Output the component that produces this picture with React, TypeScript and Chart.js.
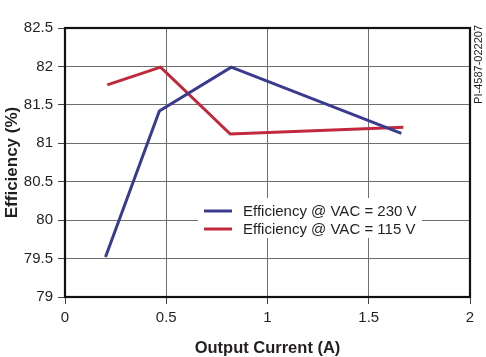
import React, { useEffect, useRef } from "react";
import { Chart, registerables } from "chart.js";

Chart.register(...registerables);

const currents230 = [0.2, 0.466, 0.821, 1.661];
const eff230 = [79.52, 81.42, 81.99, 81.13];
const currents115 = [0.209, 0.472, 0.816, 1.671];
const eff115 = [81.76, 81.99, 81.12, 81.21];
const seriesLabels = ["Efficiency @ VAC = 230 V", "Efficiency @ VAC = 115 V"];
const seriesColors = ["#3a3a8e", "#c1283b"];
const xTitle = "Output Current (A)";
const yTitle = "Efficiency (%)";
const docId = "PI-4587-022207";

const FONT = "'Liberation Sans', Arial, Helvetica, sans-serif";
const TEXT = "#231f20";
const GRID = "#6e6e6e";

const overlay = {
  id: "overlay",
  beforeDatasetsDraw(chart: any) {
    const ctx = chart.ctx;
    ctx.save();
    ctx.fillStyle = "#ffffff";
    ctx.fillRect(198, 198, 224, 40);
    ctx.restore();
  },
  afterDraw(chart: any) {
    const ctx = chart.ctx;
    const a = chart.chartArea;
    ctx.save();
    ctx.strokeStyle = "#111111";
    ctx.lineWidth = 2.2;
    ctx.strokeRect(a.left, a.top, a.right - a.left, a.bottom - a.top);

    // legend
    ctx.font = `15px ${FONT}`;
    ctx.textBaseline = "middle";
    ctx.textAlign = "left";
    chart.data.datasets.forEach((ds: any, i: number) => {
      const y = 211 + i * 18;
      ctx.strokeStyle = ds.borderColor;
      ctx.lineWidth = 3;
      ctx.beginPath();
      ctx.moveTo(204, y);
      ctx.lineTo(232, y);
      ctx.stroke();
      ctx.fillStyle = TEXT;
      ctx.fillText(ds.label, 243, y + 1);
    });

    // document id
    ctx.translate(479, 25);
    ctx.rotate(-Math.PI / 2);
    ctx.font = `11px ${FONT}`;
    ctx.textAlign = "right";
    ctx.textBaseline = "middle";
    ctx.fillStyle = TEXT;
    ctx.fillText(docId, 0, 0);
    ctx.restore();
  },
};

const fmt = (v: any) => String(Number(v));

export default function App() {
  const ref = useRef<HTMLCanvasElement>(null);
  useEffect(() => {
    document.body.style.margin = "0";
    const chart = new Chart(ref.current!, {
      type: "line",
      data: {
        datasets: [
          {
            label: seriesLabels[0],
            data: currents230.map((x, i) => ({ x, y: eff230[i] })),
            borderColor: seriesColors[0],
            backgroundColor: seriesColors[0],
            borderWidth: 3,
            pointRadius: 0,
            tension: 0,
          },
          {
            label: seriesLabels[1],
            data: currents115.map((x, i) => ({ x, y: eff115[i] })),
            borderColor: seriesColors[1],
            backgroundColor: seriesColors[1],
            borderWidth: 3,
            pointRadius: 0,
            tension: 0,
          },
        ],
      },
      options: {
        responsive: false,
        animation: false,
        layout: { padding: { top: 28, right: 16, left: 0, bottom: 0 } },
        plugins: { legend: { display: false }, tooltip: { enabled: false } },
        scales: {
          x: {
            type: "linear",
            min: 0,
            max: 2,
            afterFit(s: any) {
              s.height = 60;
              s.paddingLeft = 0;
              s.paddingRight = 0;
            },
            ticks: {
              stepSize: 0.5,
              padding: 5,
              color: TEXT,
              font: { family: FONT, size: 15 },
              maxRotation: 0,
              callback: fmt,
            },
            grid: { color: GRID, lineWidth: 1, tickLength: 7, tickColor: "#444" },
            border: { display: false },
            title: {
              display: true,
              text: xTitle,
              color: TEXT,
              font: { family: FONT, size: 16.5, weight: "bold", lineHeight: 1 },
              padding: { top: 0, bottom: 0 },
            },
          },
          y: {
            type: "linear",
            min: 79,
            max: 82.5,
            afterFit(s: any) {
              s.width = 65;
              s.paddingTop = 0;
              s.paddingBottom = 0;
            },
            ticks: {
              stepSize: 0.5,
              padding: 5,
              color: TEXT,
              font: { family: FONT, size: 15 },
              callback: fmt,
            },
            grid: { color: GRID, lineWidth: 1, tickLength: 7, tickColor: "#444" },
            border: { display: false },
            title: {
              display: true,
              text: yTitle,
              color: TEXT,
              font: { family: FONT, size: 17, weight: "bold", lineHeight: 1 },
              padding: { top: 4, bottom: 0 },
            },
          },
        },
      },
      plugins: [overlay],
    } as any);
    return () => chart.destroy();
  }, []);
  return (
    <div style={{ position: "absolute", left: 0, top: 0, width: 486, height: 357, background: "#fff" }}>
      <canvas ref={ref} width={486} height={357} style={{ display: "block" }} />
    </div>
  );
}
